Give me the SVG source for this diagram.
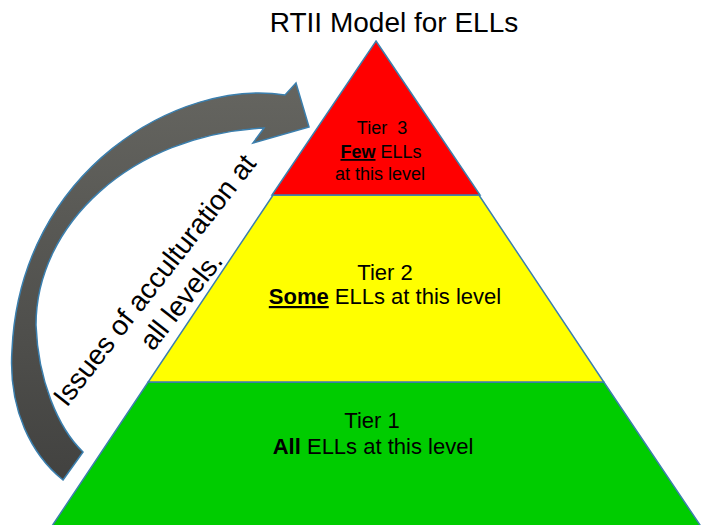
<svg xmlns="http://www.w3.org/2000/svg" width="701" height="525" viewBox="0 0 701 525">
<style>
.band{stroke:#3b7fae;stroke-width:1.5;stroke-linejoin:miter}
.t{font-family:"Liberation Sans",Arial,sans-serif;fill:#000;text-anchor:middle}
.b{font-weight:bold}
.u{font-weight:bold;text-decoration:underline}
</style>
<defs>
<linearGradient id="ag" x1="0" y1="0" x2="0" y2="1">
<stop offset="0" stop-color="#656560"/>
<stop offset="1" stop-color="#424240"/>
</linearGradient>
</defs>
<rect width="701" height="525" fill="#fff"/>
<text class="t" x="394" y="32" font-size="28">RTII Model for ELLs</text>
<g id="tier1">
<polygon class="band" points="148.2,382 603.8,382 700,525 700,530 48,530 52.7,525" fill="#00cc00"/>
<text class="t" x="372" y="428" font-size="22">Tier 1</text>
<text class="t" x="373" y="454" font-size="22"><tspan class="b">All</tspan> ELLs at this level</text>
</g>
<g id="tier2">
<polygon class="band" points="273.1,195 478.9,195 603.8,382 148.2,382" fill="#ffff00"/>
<text class="t" x="385" y="280" font-size="22">Tier 2</text>
<text class="t" x="385" y="304" font-size="22"><tspan class="u">Some</tspan> ELLs at this level</text>
</g>
<g id="tier3">
<polygon class="band" points="376,41 480,195 272,195" fill="#ff0000"/>
<text class="t" x="382" y="134" font-size="18" xml:space="preserve">Tier  3</text>
<text class="t" x="381" y="158" font-size="18"><tspan class="u">Few</tspan> ELLs</text>
<text class="t" x="380" y="180" font-size="18">at this level</text>
</g>
<g id="connectors">
<path id="arrow" d="M63,480 L83,452 C58,428 38,380 36,325 C36,225 130,135 264,128 L253,143 L309,127 L296,83 L285,95 C180,78 20,170 12,350 C8,410 32,455 63,480 Z" fill="url(#ag)" stroke="#3b7fae" stroke-width="1.5"/>
</g>
<g id="label" transform="translate(162,286) rotate(-52)">
<text class="t" x="0" y="0" font-size="28">Issues of acculturation at</text>
<text class="t" x="0" y="33.6" font-size="28">all levels.</text>
</g>
</svg>
